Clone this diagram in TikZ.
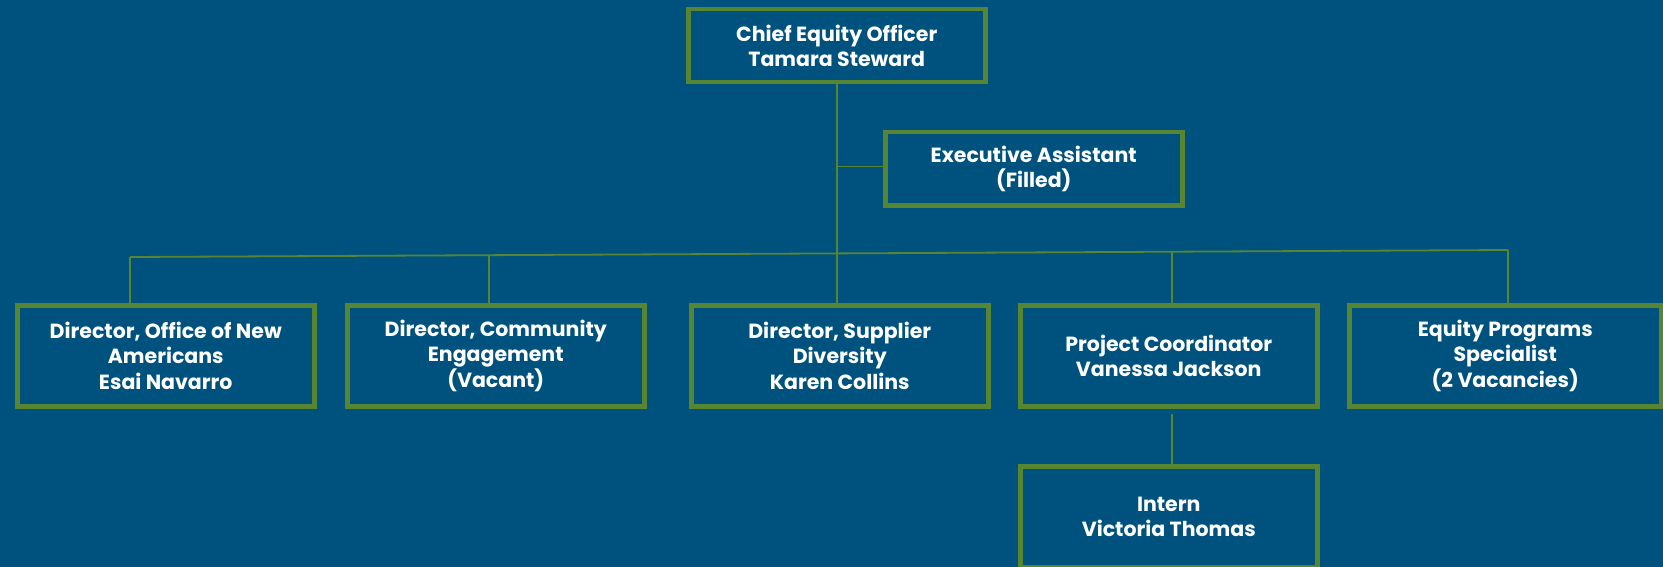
\documentclass[tikz,border=0pt]{standalone}
\usepackage{fontspec}
\setmainfont{Poppins}
\definecolor{bgblue}{RGB}{0,82,126}
\definecolor{boxgreen}{RGB}{86,134,50}
\begin{document}
\begin{tikzpicture}[x=1pt,y=-1pt,
  orgbox/.style={draw=boxgreen, line width=4.5pt, fill=bgblue, text=white,
    font=\fontsize{20.5}{25.5}\selectfont\bfseries, align=center,
    inner sep=0pt, minimum width=297pt, minimum height=#1, anchor=north west},
  orgbox/.default=101pt,
  link/.style={draw=boxgreen, line width=1.8pt}]
\fill[bgblue] (0,0) rectangle (1663,567);
\useasboundingbox (0,0) rectangle (1663,567);
\node[orgbox=73pt] (ceo) at (686,7) {Chief Equity Officer\\Tamara Steward};
\node[orgbox=73pt] (ea) at (883,130) {Executive Assistant\\(Filled)};
\node[orgbox] (d1) at (15,303) {Director, Office of New\\Americans\\Esai Navarro};
\node[orgbox] (d2) at (345,303) {Director, Community\\Engagement\\(Vacant)};
\node[orgbox] (d3) at (689,303) {Director, Supplier\\Diversity\\Karen Collins};
\node[orgbox] (d4) at (1018,303) {Project Coordinator\\Vanessa Jackson};
\node[orgbox, minimum width=312pt] (d5) at (1347,303) {Equity Programs\\Specialist\\(2 Vacancies)};
\node[orgbox] (intern) at (1018,464) {Intern\\Victoria Thomas};
\coordinate (busL) at (130,257);
\coordinate (busR) at (1508,250);
\coordinate (t2) at (489,255.3);
\coordinate (t4) at (1172,251.7);
\coordinate (eaj) at (837,166.5);
\coordinate (pcb) at (1172,414);
\draw[link] (busL) -- (busR);
\draw[link] (ceo.south) -- (ceo.south |- d3.north);
\draw[link] (eaj) -- (ea.west |- eaj);
\draw[link] (busL) -- (busL |- d1.north);
\draw[link] (t2) -- (t2 |- d2.north);
\draw[link] (t4) -- (t4 |- d4.north);
\draw[link] (busR) -- (busR |- d5.north);
\draw[link] (pcb) -- (pcb |- intern.north);
\end{tikzpicture}
\end{document}
